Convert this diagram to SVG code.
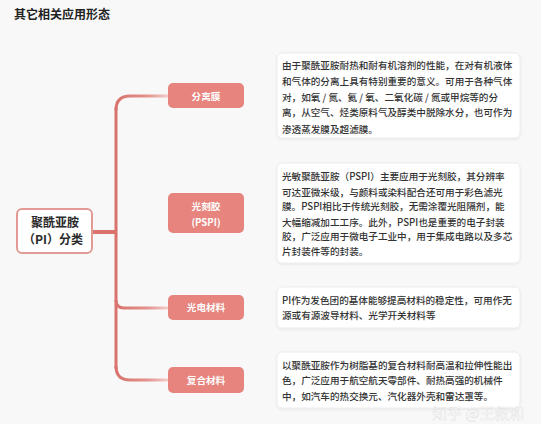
<svg xmlns="http://www.w3.org/2000/svg" width="541" height="424" viewBox="0 0 541 424">
<defs>
<linearGradient id="gBr" x1="0" y1="0" x2="1" y2="0">
<stop offset="0" stop-color="#d9736d"/>
<stop offset="0.6" stop-color="#e3918b"/>
<stop offset="1" stop-color="#f3cdca"/>
</linearGradient>
<linearGradient id="gOut" x1="0" y1="0" x2="1" y2="0">
<stop offset="0" stop-color="#f1c4c0"/>
<stop offset="1" stop-color="#faeceb"/>
</linearGradient>
<filter id="sh" x="-5%" y="-10%" width="110%" height="125%">
<feDropShadow dx="0" dy="1" stdDeviation="1.2" flood-color="#000" flood-opacity="0.08"/>
</filter>
</defs>
<style>
.t{font-family:"Noto Sans CJK SC","Liberation Sans",sans-serif;}
.title{font-size:12px;font-weight:bold;fill:#222;}
.root{font-size:12px;font-weight:bold;fill:#2a2a2a;}
.br{fill:#e6847d;}
.brt{font-size:9.6px;font-weight:bold;fill:#fff;}
.desc{fill:#fff;stroke:#ececec;stroke-width:1;}
.dt{font-size:9.6px;font-weight:500;fill:#333;}
.trunk{fill:none;stroke:#d9736d;stroke-width:3;stroke-linecap:round;}
.lk{fill:none;stroke:url(#gBr);stroke-width:3;}
.out{fill:none;stroke:url(#gOut);stroke-width:3;}
.wm{font-size:15px;fill:#ffffff;fill-opacity:0.75;stroke:#c8c8c8;stroke-width:0.4;stroke-opacity:0.6;}
</style>
<rect x="0" y="0" width="541" height="424" fill="#f8f8f8"/>
<text class="t title" x="14" y="19">其它相关应用形态</text>

<g id="connectors">
<path class="lk" d="M116,110 Q116,96 130,96 H168"/>
<path class="trunk" d="M116,108 V368"/>
<path class="lk" d="M116,366 Q116,380 130,380 H168"/>
<path class="lk" d="M116,213 H168"/>
<path class="lk" d="M116,300 Q116,308 124,308 H168"/>
<path d="M92,232 H116" fill="none" stroke="#d9736d" stroke-width="4"/>
<path class="out" d="M244,96 H277"/>
<path class="out" d="M244,213 H277"/>
<path class="out" d="M244,308 H277"/>
<path class="out" d="M244,380 H277"/>
</g>

<g id="root">
<rect x="17" y="209" width="75" height="44" rx="5" fill="#fff" stroke="#e39a95" stroke-width="2"/>
<text class="t root" x="55" y="227" text-anchor="middle">聚酰亚胺</text>
<text class="t root" x="53" y="244" text-anchor="middle">（PI）分类</text>
</g>

<g id="n1">
<rect class="br" x="168" y="83" width="76" height="25" rx="5"/>
<text class="t brt" x="206" y="99.5" text-anchor="middle">分离膜</text>
</g>
<g id="n2">
<rect class="br" x="168" y="193" width="76" height="40" rx="5"/>
<text class="t brt" x="206" y="209.5" text-anchor="middle">光刻胶</text>
<text class="t brt" x="206" y="225.5" text-anchor="middle">(PSPI)</text>
</g>
<g id="n3">
<rect class="br" x="168" y="295" width="76" height="25" rx="5"/>
<text class="t brt" x="206" y="311" text-anchor="middle">光电材料</text>
</g>
<g id="n4">
<rect class="br" x="168" y="367" width="76" height="26" rx="5"/>
<text class="t brt" x="206" y="383.5" text-anchor="middle">复合材料</text>
</g>

<g id="d1">
<rect class="desc" x="277" y="53" width="243" height="85" rx="5" filter="url(#sh)"/>
<text class="t dt" x="282" y="69">由于聚酰亚胺耐热和耐有机溶剂的性能，在对有机液体</text>
<text class="t dt" x="282" y="85">和气体的分离上具有特别重要的意义。可用于各种气体</text>
<text class="t dt" x="282" y="100.5">对，如氧 / 氮、氦 / 氧、二氧化碳 / 氮或甲烷等的分</text>
<text class="t dt" x="282" y="116">离，从空气、烃类原料气及醇类中脱除水分，也可作为</text>
<text class="t dt" x="282" y="132.5">渗透蒸发膜及超滤膜。</text>
</g>
<g id="d2">
<rect class="desc" x="277" y="163" width="243" height="100" rx="5" filter="url(#sh)"/>
<text class="t dt" x="282" y="180">光敏聚酰亚胺（PSPI）主要应用于光刻胶，其分辨率</text>
<text class="t dt" x="282" y="195.5">可达亚微米级，与颜料或染料配合还可用于彩色滤光</text>
<text class="t dt" x="282" y="210">膜。PSPI相比于传统光刻胶，无需涂覆光阻隔剂，能</text>
<text class="t dt" x="282" y="225.5">大幅缩减加工工序。此外，PSPI也是重要的电子封装</text>
<text class="t dt" x="282" y="240">胶，广泛应用于微电子工业中，用于集成电路以及多芯</text>
<text class="t dt" x="282" y="255">片封装件等的封装。</text>
</g>
<g id="d3">
<rect class="desc" x="277" y="287" width="243" height="41" rx="5" filter="url(#sh)"/>
<text class="t dt" x="282" y="304">PI作为发色团的基体能够提高材料的稳定性，可用作无</text>
<text class="t dt" x="282" y="318.5">源或有源波导材料、光学开关材料等</text>
</g>
<g id="d4">
<rect class="desc" x="277" y="352" width="243" height="56" rx="5" filter="url(#sh)"/>
<text class="t dt" x="282" y="369">以聚酰亚胺作为树脂基的复合材料耐高温和拉伸性能出</text>
<text class="t dt" x="282" y="383.5">色，广泛应用于航空航天零部件、耐热高强的机械件</text>
<text class="t dt" x="282" y="400">中，如汽车的热交换元、汽化器外壳和雷达罩等。</text>
</g>

<text class="t wm" x="432" y="419">知乎 @王叔和</text>
</svg>
